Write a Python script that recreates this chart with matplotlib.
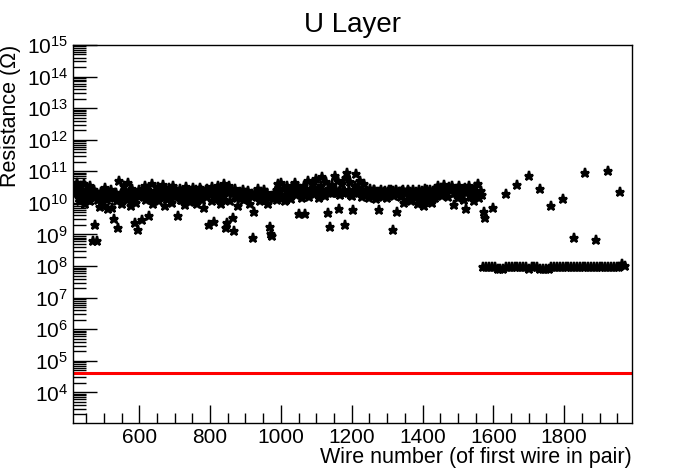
"""U layer wire-pair resistance scan, ROOT-like look."""

import matplotlib

matplotlib.use("Agg")
import matplotlib.pyplot as plt
import numpy as np
from matplotlib.ticker import FixedLocator, LogLocator, MultipleLocator, NullFormatter

plt.rcParams["font.family"] = ["Liberation Sans", "DejaVu Sans"]
plt.rcParams["mathtext.fontset"] = "custom"
plt.rcParams["mathtext.rm"] = "Liberation Sans"
plt.rcParams["mathtext.it"] = "Liberation Sans"

# ---------------------------------------------------------------------------
# Data (log10 of resistance in ohms)
# ---------------------------------------------------------------------------

# main band: wires 420 .. 1568, every 4th wire
band_start, band_step = 420, 4
band_log_r = [
    10.45, 10.62, 10.30, 10.05, 10.52, 10.20, 10.60, 9.95, 10.38, 10.12, 10.55, 10.25,
    8.78, 10.40, 9.30, 8.80, 10.10, 9.88, 10.35, 10.05, 9.90, 10.48, 10.22, 9.82,
    10.15, 10.42, 9.85, 9.50, 10.30, 10.05, 9.20, 10.68, 10.20, 9.95, 10.55, 10.35,
    10.10, 10.62, 10.28, 9.90, 10.45, 10.18, 9.37, 10.00, 9.15, 10.40, 10.22, 9.45,
    10.30, 10.55, 10.10, 10.42, 9.60, 10.25, 10.60, 9.95, 10.38, 10.15, 10.50, 10.05,
    10.45, 10.20, 10.58, 9.90, 10.35, 10.12, 10.48, 10.28, 10.00, 10.52, 10.18, 10.40,
    9.58, 10.25, 10.45, 10.08, 10.35, 9.92, 10.50, 10.20, 10.38, 10.02, 10.30, 10.46,
    10.15, 10.40, 9.95, 10.30, 10.48, 10.10, 10.25, 9.85, 10.42, 10.20, 9.30, 10.35,
    10.05, 10.30, 9.40, 10.22, 10.45, 10.12, 10.38, 9.95, 10.28, 10.10, 9.20, 9.37,
    10.32, 10.05, 10.40, 9.52, 9.10, 10.25, 10.15, 9.90, 10.35, 10.20, 10.42, 10.08,
    10.28, 10.12, 10.38, 9.98, 10.22, 8.90, 9.70, 10.30, 10.18, 10.45, 10.05, 10.35,
    10.20, 10.40, 10.10, 10.32, 9.95, 9.24, 9.00, 8.95, 10.25, 10.15, 10.42, 10.60,
    10.35, 10.63, 10.20, 10.45, 10.05, 10.55, 10.28, 10.40, 10.12, 10.50, 10.30, 10.62,
    10.25, 10.48, 9.65, 10.38, 10.15, 10.55, 9.65, 10.30, 10.68, 10.20, 10.45, 10.35,
    10.60, 10.28, 10.75, 10.40, 10.15, 10.52, 10.82, 10.35, 10.22, 10.65, 9.68, 10.45,
    9.24, 10.58, 10.30, 10.85, 10.42, 10.70, 9.80, 10.25, 10.60, 10.38, 9.30, 10.78,
    10.95, 10.40, 10.65, 10.22, 9.78, 10.55, 10.90, 10.32, 10.48, 10.70, 10.18, 10.42,
    10.60, 10.25, 10.38, 10.15, 10.45, 10.30, 10.22, 10.40, 10.12, 10.35, 9.78, 10.28,
    10.42, 10.20, 10.36, 10.30, 10.15, 10.40, 10.25, 10.32, 9.15, 10.22, 10.38, 9.70,
    10.28, 10.35, 10.18, 10.42, 10.00, 10.30, 10.10, 10.38, 10.24, 10.05, 10.33, 10.20,
    10.15, 10.30, 9.95, 10.22, 10.10, 10.35, 9.90, 10.25, 10.05, 10.18, 10.30, 10.12,
    10.00, 10.25, 10.15, 10.40, 10.55, 10.30, 10.48, 10.22, 10.58, 10.35, 10.45, 10.20,
    10.50, 10.38, 10.55, 9.94, 10.30, 10.45, 10.15, 10.52, 10.25, 10.40, 10.10, 10.48,
    9.80, 10.35, 10.55, 10.20, 10.42, 10.05, 10.50, 10.28, 10.60, 10.15, 10.38, 10.25,
]

# second pass of the band, wires 422 .. 1566 (fills the gaps between the above)
band2_start, band2_step = 422, 8
band2_log_r = [
    10.30, 10.15, 10.40, 10.22, 10.10, 10.05, 10.20, 10.30, 10.18, 10.25, 10.35, 10.10,
    10.28, 10.20, 10.32, 10.15, 10.25, 10.38, 10.20, 10.30, 10.12, 10.28, 10.22, 10.35,
    10.18, 10.30, 10.25, 10.15, 10.28, 10.22, 10.32, 10.20, 10.12, 10.25, 10.30, 10.18,
    10.28, 10.10, 10.22, 10.30, 10.20, 10.15, 10.35, 10.25, 10.40, 10.30, 10.45, 10.35,
    10.50, 10.38, 10.55, 10.42, 10.60, 10.48, 10.52, 10.40, 10.45, 10.30, 10.28, 10.25,
    10.30, 10.22, 10.28, 10.25, 10.30, 10.22, 10.26, 10.20, 10.15, 10.22, 10.18, 10.10,
    10.20, 10.15, 10.10, 10.30, 10.38, 10.42, 10.35, 10.45, 10.38, 10.40, 10.35, 10.42,
    10.30, 10.38, 10.32, 10.28, 10.35, 10.40, 10.30, 10.36, 10.30, 10.34, 10.38, 10.30,
    10.32, 10.25, 10.35, 10.40, 10.30, 10.38, 10.28, 10.35, 10.30, 10.40, 10.32, 10.35,
    10.30, 10.38, 10.35, 10.42, 10.38, 10.40, 10.35, 10.38, 10.30, 10.42, 10.35, 10.40,
    10.36, 10.40, 10.38, 10.45, 10.40, 10.42, 10.38, 10.45, 10.35, 10.40, 10.38, 10.45,
    10.40, 10.44, 10.38, 10.42, 10.40, 10.45,
]

# sparse high points past wire 1570
sparse_wire = [1573, 1576, 1600, 1636, 1666, 1700, 1731, 1762, 1796, 1827, 1858, 1891, 1923, 1957]
sparse_log_r = [9.70, 9.52, 9.84, 10.28, 10.57, 10.85, 10.44, 9.90, 10.13, 8.89, 10.95, 8.83, 11.01, 10.35]

# flat ~1e8 segment: wires 1572 .. 1972, every 8th wire
flat_start, flat_step = 1572, 8
flat_log_r = [
    7.98, 7.98, 7.97, 7.98, 7.96, 7.92, 7.90, 7.91, 7.97, 7.98,
    7.98, 7.97, 7.98, 7.98, 7.96, 7.98, 7.92, 7.98, 7.97, 7.98,
    7.91, 7.90, 7.92, 7.91, 7.96, 7.98, 7.98, 7.97, 7.98, 7.98,
    7.98, 7.98, 7.97, 7.98, 7.98, 7.98, 7.97, 7.98, 7.98, 7.98,
    7.98, 7.97, 7.98, 7.98, 7.98, 7.98, 7.98, 7.97, 7.98, 8.05,
    7.99,
]

threshold_ohm = 4e4

# ---------------------------------------------------------------------------

band_wire = band_start + band_step * np.arange(len(band_log_r))
band2_wire = band2_start + band2_step * np.arange(len(band2_log_r))
flat_wire = flat_start + flat_step * np.arange(len(flat_log_r))

fig = plt.figure(figsize=(6.98, 4.73), dpi=100)
ax = fig.add_axes([0.1052, 0.1063, 0.7999, 0.7986])

x_lo, x_hi = 414, 1991
ax.axhline(threshold_ohm, color="#ff0000", lw=2.2, zorder=2)

mk = dict(ls="none", marker="*", ms=6.5, mew=1.6, color="black", mec="black", zorder=3)
ax.plot(band2_wire, 10.0 ** np.array(band2_log_r), **mk)
ax.plot(band_wire, 10.0 ** np.array(band_log_r), **mk)
ax.plot(flat_wire, 10.0 ** np.array(flat_log_r), **mk)
ax.plot(sparse_wire, 10.0 ** np.array(sparse_log_r), **mk)

ax.set_yscale("log")
ax.set_xlim(x_lo, x_hi)
ax.set_ylim(10 ** 3.04, 1e15)

ax.xaxis.set_major_locator(MultipleLocator(200))
ax.xaxis.set_minor_locator(MultipleLocator(50))
ax.yaxis.set_major_locator(FixedLocator([10.0 ** k for k in range(4, 16)]))
ax.yaxis.set_minor_locator(LogLocator(base=10, subs=np.arange(2, 10), numticks=30))
ax.yaxis.set_minor_formatter(NullFormatter())

ax.tick_params(which="both", direction="in", top=False, right=False, labelsize=15)
ax.tick_params(axis="x", which="major", length=13, width=1)
ax.tick_params(axis="x", which="minor", length=7, width=1)
ax.tick_params(axis="y", which="major", length=17, width=1)
ax.tick_params(axis="y", which="minor", length=9, width=1)
ax.tick_params(axis="x", pad=4)
ax.tick_params(axis="y", pad=4)

for sp in ax.spines.values():
    sp.set_linewidth(1)

ax.set_xlabel("Wire number (of first wire in pair)", fontsize=15.5, ha="right", x=1.0, labelpad=0)
ax.set_ylabel("Resistance (Ω)", fontsize=15.5, ha="right", y=1.0, labelpad=4)
ax.set_title("U Layer", fontsize=20, pad=9)

fig.savefig("out.png", dpi=100)
